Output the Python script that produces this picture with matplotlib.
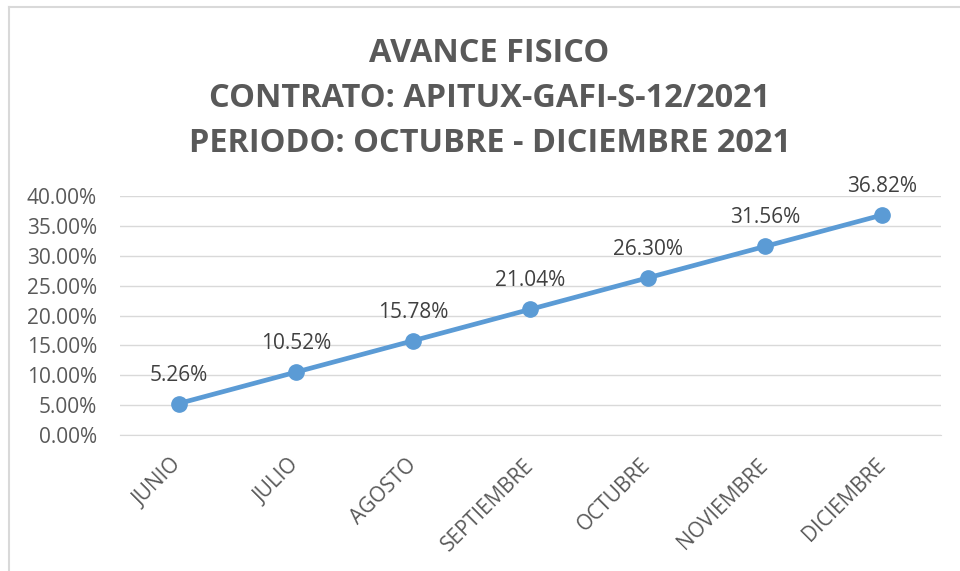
import matplotlib
matplotlib.use("Agg")
import matplotlib.pyplot as plt
import matplotlib.transforms as mtransforms
from matplotlib.ticker import PercentFormatter
from matplotlib.lines import Line2D

# data
months = ["JUNIO", "JULIO", "AGOSTO", "SEPTIEMBRE", "OCTUBRE", "NOVIEMBRE", "DICIEMBRE"]
avance = [5.26, 10.52, 15.78, 21.04, 26.30, 31.56, 36.82]
yticks = [0, 5, 10, 15, 20, 25, 30, 35, 40]

title = "AVANCE FISICO\nCONTRATO: APITUX-GAFI-S-12/2021\nPERIODO: OCTUBRE - DICIEMBRE 2021"

txt = "#595959"
blue = "#5B9BD5"
plt.rcParams['font.family'] = ['Open Sans', 'DejaVu Sans']

fig = plt.figure(figsize=(9.6, 5.71), dpi=100)
ax = fig.add_axes([0.125, 0.2382, 0.855, 0.4185])

x = list(range(len(months)))
ax.plot(x, avance, color=blue, lw=3.4, marker='o', ms=11, solid_capstyle='round')

for xi, v in zip(x, avance):
    ax.annotate(f"{v:.2f}%", (xi, v), xytext=(0, 13), textcoords='offset points',
                ha='center', va='bottom', fontsize=15, color="#404040")

ax.set_xlim(-0.5, len(months) - 0.5)
ax.set_ylim(0, 40)
ax.set_yticks(yticks)
ax.yaxis.set_major_formatter(PercentFormatter(decimals=2))
ax.set_xticks(x)
ax.set_xticklabels(months, rotation=45, ha='right', va='center', rotation_mode='anchor')
shift = mtransforms.ScaledTranslation(-3 / 100, 0, fig.dpi_scale_trans)
for lab in ax.get_xticklabels():
    lab.set_transform(lab.get_transform() + shift)
ax.grid(axis='y', color='#D9D9D9', lw=1)
ax.set_axisbelow(True)
for s in ['top', 'right', 'left']:
    ax.spines[s].set_visible(False)
ax.spines['bottom'].set_color('#D9D9D9')
ax.tick_params(axis='both', length=0, labelsize=15, colors=txt)
ax.tick_params(axis='y', pad=16.5)
ax.tick_params(axis='x', pad=19.5)

fig.text(0.510, 0.828, title, ha='center', va='center', fontsize=23.4, fontweight='bold',
         color=txt, linespacing=1.48)

# chart frame (top and left edges visible)
fig.add_artist(Line2D([0.009, 1.0], [0.988, 0.988], color='#D9D9D9', lw=1.5, transform=fig.transFigure))
fig.add_artist(Line2D([0.009, 0.009], [0.0, 0.988], color='#D9D9D9', lw=1.5, transform=fig.transFigure))

fig.savefig("out.png", dpi=100)
